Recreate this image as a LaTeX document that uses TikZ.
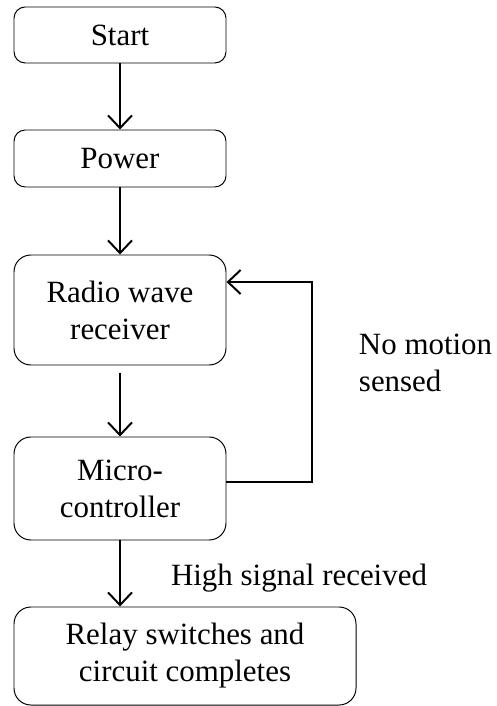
\documentclass[tikz,border=0pt]{standalone}
\usepackage{fontspec}
\setmainfont{Liberation Serif}
\usetikzlibrary{arrows.meta}

\tikzset{
    block/.style={draw, line width=0.7pt, rounded corners=8pt, align=center, minimum width=5.3cm, inner sep=0pt},
    flow/.style={->, line width=1.4pt},
}

\begin{document}
\begin{tikzpicture}[>={Straight Barb[length=9pt, width=17pt, line width=1.4pt]}, font=\fontsize{22}{26.3}\selectfont]
    \useasboundingbox (0,0) rectangle (12.425,-17.65);

    \node[block, minimum height=1.4cm] (start) at (3.0,-0.875) {Start};
    \node[block, minimum height=1.425cm] (power) at (3.0,-3.9625) {Power};
    \node[block, minimum height=2.75cm, rounded corners=12pt] (radio) at (3.0,-7.75) {Radio wave\\receiver};
    \node[block, minimum height=2.575cm, rounded corners=12pt] (micro) at (3.0,-12.2125) {Micro-\\controller};
    \node[block, minimum width=8.55cm, minimum height=2.45cm, rounded corners=12pt] (relay) at (4.625,-16.4) {Relay switches and\\circuit completes};

    \node[anchor=west, align=left] (nomotion) at (8.85,-9.08) {No motion\\sensed};
    \node (high) at (7.475,-14.45) {High signal received};

    \coordinate (loop) at (7.8,-7.05);

    \draw[flow] (start) -- (power);
    \draw[flow] (power) -- (radio);
    \draw[flow, shorten <=5pt] (radio) -- (micro);
    \draw[flow] (micro.south) -- (micro.south |- relay.north);
    % feedback when nothing is sensed
    \draw[flow] ([yshift=4.5pt]micro.east) -| (loop) -- (loop -| radio.east);
\end{tikzpicture}
\end{document}
